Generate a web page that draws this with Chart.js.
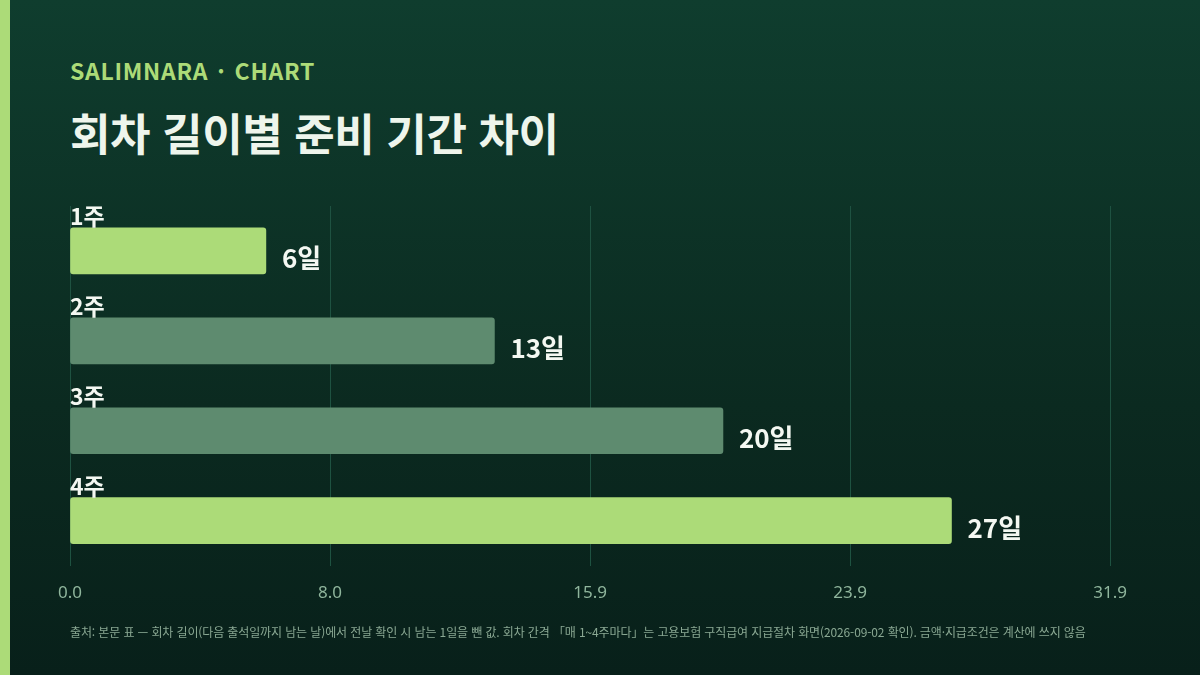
<!DOCTYPE html>
<html lang="ko">
<head>
<meta charset="utf-8">
<script src="https://cdn.jsdelivr.net/npm/chart.js@4/dist/chart.umd.min.js"></script>
<style>
  html, body { margin: 0; padding: 0; }
  body {
    width: 1200px; height: 675px; overflow: hidden; position: relative;
    background: linear-gradient(180deg, #0f3d2e 0%, #0b2a20 60%, #08201a 100%);
    font-family: "Noto Sans CJK KR", "Noto Sans", sans-serif;
  }
  .accent { position: absolute; left: 0; top: 0; width: 10px; height: 675px; background: #acdb78; }
  .kicker { position: absolute; left: 70px; top: 53px; font-size: 23px; font-weight: 700; color: #acdb78; letter-spacing: 0.7px; word-spacing: 2px; }
  .title { position: absolute; left: 70px; top: 100px; font-size: 44px; font-weight: 700; color: #eef5ec; letter-spacing: -0.4px; }
  .chart-wrap { position: absolute; left: 41px; top: 206px; width: 1103px; height: 424px; }
  .source { position: absolute; left: 70px; top: 623px; font-size: 12px; color: #8aa893; letter-spacing: -0.12px; }
</style>
</head>
<body>
<div class="accent"></div>
<div class="kicker">SALIMNARA · CHART</div>
<div class="title">회차 길이별 준비 기간 차이</div>
<div class="chart-wrap"><canvas id="chart"></canvas></div>
<div class="source">출처: 본문 표 — 회차 길이(다음 출석일까지 남는 날)에서 전날 확인 시 남는 1일을 뺀 값. 회차 간격 「매 1~4주마다」는 고용보험 구직급여 지급절차 화면(2026-09-02 확인). 금액·지급조건은 계산에 쓰지 않음</div>

<script>
const categories = ['1주', '2주', '3주', '4주'];
const prepDays = [6, 13, 20, 27];
const valueUnit = '일';

const axisMax = Math.max(...prepDays) * 1.18;

const LIGHT = '#acdb78', MUTED = '#5e8b6f';

const labelPlugin = {
  id: 'barLabels',
  afterDatasetsDraw(chart) {
    const { ctx, chartArea } = chart;
    const meta = chart.getDatasetMeta(0);
    ctx.save();
    meta.data.forEach((bar, i) => {
      const top = bar.y - bar.height / 2;
      ctx.fillStyle = '#f4f8f2';
      ctx.font = '700 23px "Noto Sans CJK KR", sans-serif';
      ctx.textAlign = 'left';
      ctx.textBaseline = 'alphabetic';
      ctx.fillText(categories[i], chartArea.left, top - 3);
      ctx.font = '700 26px "Noto Sans CJK KR", sans-serif';
      ctx.textBaseline = 'middle';
      ctx.fillText(prepDays[i] + valueUnit, bar.x + 16, bar.y + 7);
    });
    ctx.restore();
  }
};

new Chart(document.getElementById('chart'), {
  type: 'bar',
  data: {
    labels: categories,
    datasets: [{
      data: prepDays,
      backgroundColor: [LIGHT, MUTED, MUTED, LIGHT],
      borderRadius: 3,
      borderSkipped: false,
      barThickness: 46,
    }]
  },
  options: {
    indexAxis: 'y',
    responsive: true, maintainAspectRatio: false,
    animation: false,
    layout: { padding: { left: 20, right: 30, top: 0, bottom: 10 } },
    plugins: { legend: { display: false }, tooltip: { enabled: false } },
    scales: {
      x: {
        min: 0, max: axisMax,
        grid: { color: '#1e5241', lineWidth: 1, drawTicks: false },
        border: { display: false },
        ticks: {
          stepSize: axisMax / 4,
          padding: 17,
          color: '#8fb59c',
          font: { size: 17, family: '"Noto Sans", sans-serif' },
          callback: v => Number(v).toFixed(1),
        }
      },
      y: {
        display: false,
        grid: { display: false },
      }
    }
  },
  plugins: [labelPlugin]
});
</script>
</body>
</html>
